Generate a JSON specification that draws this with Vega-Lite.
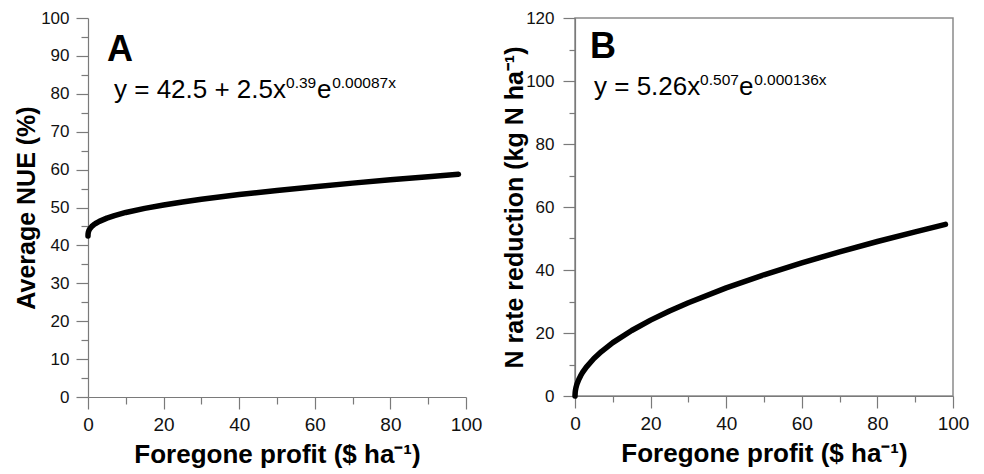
{
  "$schema": "https://vega.github.io/schema/vega-lite/v6.json",
  "background": "white",
  "padding": {"left": 14, "top": 8, "right": 5, "bottom": 5},
  "spacing": 19,
  "config": {
    "font": "Liberation Sans",
    "view": {"stroke": null},
    "axis": {
      "grid": false,
      "domainColor": "#7a7a7a",
      "tickColor": "#7a7a7a",
      "domainWidth": 1.2,
      "tickWidth": 1.2,
      "labelColor": "#111111",
      "titleColor": "#000000",
      "labelFont": "Liberation Sans",
      "titleFont": "Liberation Sans",
      "titleFontWeight": "bold",
      "titleFontSize": 25,
      "labelFontSize": 18,
      "labelOverlap": false,
      "labelFlush": false
    },
    "text": {"font": "Liberation Sans", "color": "#000000"}
  },
  "datasets": {
    "nue": [
      {"profit": 0, "value": 42.5},
      {"profit": 0.02, "value": 43.04},
      {"profit": 0.1, "value": 43.52},
      {"profit": 0.25, "value": 43.96},
      {"profit": 0.5, "value": 44.41},
      {"profit": 1, "value": 45.0},
      {"profit": 1.5, "value": 45.43},
      {"profit": 2, "value": 45.78},
      {"profit": 3, "value": 46.34},
      {"profit": 5, "value": 47.2},
      {"profit": 7, "value": 47.87},
      {"profit": 10, "value": 48.69},
      {"profit": 15, "value": 49.78},
      {"profit": 20, "value": 50.68},
      {"profit": 25, "value": 51.47},
      {"profit": 30, "value": 52.17},
      {"profit": 40, "value": 53.41},
      {"profit": 50, "value": 54.51},
      {"profit": 60, "value": 55.5},
      {"profit": 70, "value": 56.43},
      {"profit": 80, "value": 57.3},
      {"profit": 90, "value": 58.13},
      {"profit": 98, "value": 58.78}
    ],
    "nred": [
      {"profit": 0, "value": 0},
      {"profit": 0.05, "value": 1.15},
      {"profit": 0.1, "value": 1.64},
      {"profit": 0.25, "value": 2.6},
      {"profit": 0.5, "value": 3.7},
      {"profit": 1, "value": 5.26},
      {"profit": 1.5, "value": 6.46},
      {"profit": 2, "value": 7.48},
      {"profit": 3, "value": 9.18},
      {"profit": 5, "value": 11.89},
      {"profit": 7, "value": 14.11},
      {"profit": 10, "value": 16.93},
      {"profit": 15, "value": 20.8},
      {"profit": 20, "value": 24.09},
      {"profit": 25, "value": 26.99},
      {"profit": 30, "value": 29.62},
      {"profit": 40, "value": 34.33},
      {"profit": 50, "value": 38.49},
      {"profit": 60, "value": 42.27},
      {"profit": 70, "value": 45.77},
      {"profit": 80, "value": 49.04},
      {"profit": 90, "value": 52.13},
      {"profit": 98, "value": 54.49}
    ],
    "labelA": [{"label": "A", "profit": 5.0, "value": 88.7}],
    "eqA": [
      {"label": "y = 42.5 + 2.5x", "profit": 6.88, "value": 79.0},
      {"label": "e", "profit": 60.6, "value": 79.0}
    ],
    "supA": [
      {"label": "0.39", "profit": 52.4, "value": 81.6},
      {"label": "0.00087x", "profit": 64.6, "value": 81.6}
    ],
    "labelB": [{"label": "B", "profit": 4.0, "value": 107.3}],
    "eqB": [
      {"label": "y = 5.26x", "profit": 5.03, "value": 95.7},
      {"label": "e", "profit": 43.4, "value": 95.7}
    ],
    "supB": [
      {"label": "0.507", "profit": 33.1, "value": 98.8},
      {"label": "0.000136x", "profit": 47.4, "value": 98.8}
    ]
  },
  "hconcat": [
    {
      "width": 378,
      "height": 379,
      "resolve": {"axis": {"x": "independent", "y": "independent"}},
      "layer": [
        {
          "data": {"name": "nue"},
          "mark": {"type": "line", "color": "#000000", "strokeWidth": 5.5, "strokeCap": "round", "strokeJoin": "round"},
          "encoding": {
            "x": {
              "field": "profit", "type": "quantitative",
              "scale": {"domain": [0, 100], "nice": false},
              "axis": {
                "orient": "bottom",
                "title": "Foregone profit ($ ha⁻¹)",
                "values": [0, 20, 40, 60, 80, 100],
                "tickSize": 12,
                "labelPadding": 6,
                "labelFontSize": 19,
                "titleFontSize": 26,
                "titlePadding": 7
              }
            },
            "y": {
              "field": "value", "type": "quantitative",
              "scale": {"domain": [0, 100], "nice": false},
              "axis": {
                "orient": "left",
                "title": "Average NUE (%)",
                "values": [0, 10, 20, 30, 40, 50, 60, 70, 80, 90, 100],
                "tickSize": 12,
                "labelPadding": 7,
                "labelFontSize": 17,
                "titlePadding": 1
              }
            }
          }
        },
        {
          "data": {"name": "labelA"},
          "mark": {"type": "text", "fontSize": 36, "fontWeight": "bold", "align": "left", "baseline": "alphabetic"},
          "encoding": {
            "x": {"field": "profit", "type": "quantitative", "scale": {"domain": [0, 100], "nice": false},
              "axis": {"orient": "bottom", "values": [10, 30, 50, 70, 90], "tickSize": 7, "labels": false, "domain": false, "title": null}},
            "y": {"field": "value", "type": "quantitative", "scale": {"domain": [0, 100], "nice": false},
              "axis": {"orient": "left", "values": [5, 15, 25, 35, 45, 55, 65, 75, 85, 95], "tickSize": 7, "labels": false, "domain": false, "title": null}},
            "text": {"field": "label"}
          }
        },
        {
          "data": {"name": "eqA"},
          "mark": {"type": "text", "fontSize": 26, "align": "left", "baseline": "alphabetic"},
          "encoding": {
            "x": {"field": "profit", "type": "quantitative", "scale": {"domain": [0, 100], "nice": false}, "axis": null},
            "y": {"field": "value", "type": "quantitative", "scale": {"domain": [0, 100], "nice": false}, "axis": null},
            "text": {"field": "label"}
          }
        },
        {
          "data": {"name": "supA"},
          "mark": {"type": "text", "fontSize": 15.5, "align": "left", "baseline": "alphabetic"},
          "encoding": {
            "x": {"field": "profit", "type": "quantitative", "scale": {"domain": [0, 100], "nice": false}, "axis": null},
            "y": {"field": "value", "type": "quantitative", "scale": {"domain": [0, 100], "nice": false}, "axis": null},
            "text": {"field": "label"}
          }
        }
      ]
    },
    {
      "width": 378,
      "height": 378,
      "view": {"stroke": "#8a8a8a", "strokeWidth": 1.5},
      "resolve": {"axis": {"x": "independent", "y": "independent"}},
      "layer": [
        {
          "data": {"name": "nred"},
          "mark": {"type": "line", "color": "#000000", "strokeWidth": 5.5, "strokeCap": "round", "strokeJoin": "round"},
          "encoding": {
            "x": {
              "field": "profit", "type": "quantitative",
              "scale": {"domain": [0, 100], "nice": false},
              "axis": {
                "orient": "bottom",
                "title": "Foregone profit ($ ha⁻¹)",
                "values": [0, 20, 40, 60, 80, 100],
                "tickSize": 12,
                "labelPadding": 6,
                "labelFontSize": 19,
                "titleFontSize": 26,
                "titlePadding": 7
              }
            },
            "y": {
              "field": "value", "type": "quantitative",
              "scale": {"domain": [0, 120], "nice": false},
              "axis": {
                "orient": "left",
                "title": "N rate reduction (kg N ha⁻¹)",
                "values": [0, 20, 40, 60, 80, 100, 120],
                "tickSize": 12,
                "labelPadding": 9,
                "labelFontSize": 17,
                "titlePadding": -2
              }
            }
          }
        },
        {
          "data": {"name": "labelB"},
          "mark": {"type": "text", "fontSize": 36, "fontWeight": "bold", "align": "left", "baseline": "alphabetic"},
          "encoding": {
            "x": {"field": "profit", "type": "quantitative", "scale": {"domain": [0, 100], "nice": false},
              "axis": {"orient": "bottom", "values": [10, 30, 50, 70, 90], "tickSize": 6, "labels": false, "domain": false, "title": null}},
            "y": {"field": "value", "type": "quantitative", "scale": {"domain": [0, 120], "nice": false},
              "axis": {"orient": "left", "values": [10, 30, 50, 70, 90, 110], "tickSize": 6, "labels": false, "domain": false, "title": null}},
            "text": {"field": "label"}
          }
        },
        {
          "data": {"name": "eqB"},
          "mark": {"type": "text", "fontSize": 26, "align": "left", "baseline": "alphabetic"},
          "encoding": {
            "x": {"field": "profit", "type": "quantitative", "scale": {"domain": [0, 100], "nice": false}, "axis": null},
            "y": {"field": "value", "type": "quantitative", "scale": {"domain": [0, 120], "nice": false}, "axis": null},
            "text": {"field": "label"}
          }
        },
        {
          "data": {"name": "supB"},
          "mark": {"type": "text", "fontSize": 15.5, "align": "left", "baseline": "alphabetic"},
          "encoding": {
            "x": {"field": "profit", "type": "quantitative", "scale": {"domain": [0, 100], "nice": false}, "axis": null},
            "y": {"field": "value", "type": "quantitative", "scale": {"domain": [0, 120], "nice": false}, "axis": null},
            "text": {"field": "label"}
          }
        }
      ]
    }
  ]
}
